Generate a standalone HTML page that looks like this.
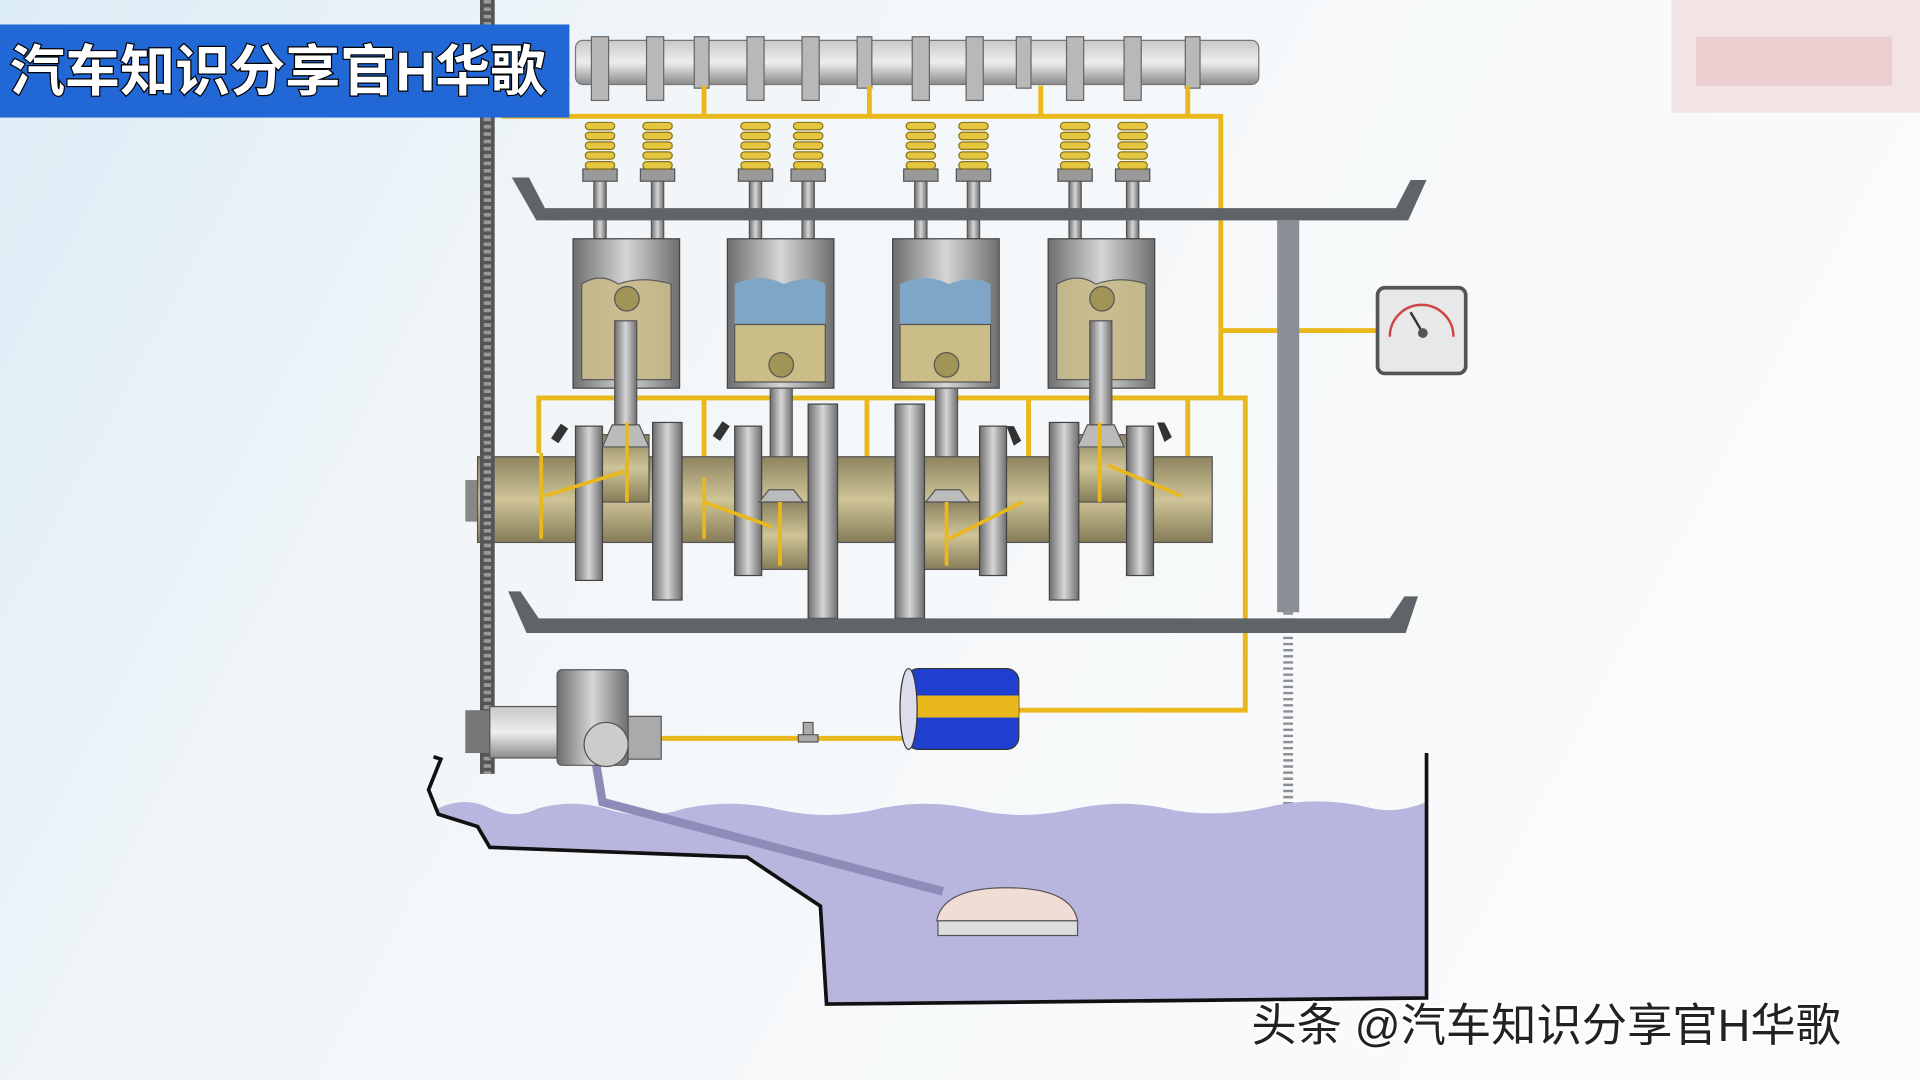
<!DOCTYPE html>
<html><head><meta charset="utf-8"><style>
html,body{margin:0;padding:0;width:1920px;height:1080px;overflow:hidden;background:#f6f8fa}
svg{display:block}
</style></head><body>
<svg width="1920" height="1080" viewBox="0 0 1568 882" xmlns="http://www.w3.org/2000/svg" font-family="Liberation Sans, Noto Sans CJK SC, sans-serif">
<defs>
<linearGradient id="bg" x1="0" y1="0" x2="1" y2="0.3">
<stop offset="0" stop-color="#dcecf6"/><stop offset="0.35" stop-color="#f2f6f9"/><stop offset="1" stop-color="#fafbfb"/></linearGradient>
<linearGradient id="gm" x1="0" y1="0" x2="1" y2="0">
<stop offset="0" stop-color="#6e6e6e"/><stop offset="0.5" stop-color="#d6d6d6"/><stop offset="1" stop-color="#6e6e6e"/></linearGradient>
<linearGradient id="gv" x1="0" y1="0" x2="0" y2="1">
<stop offset="0" stop-color="#c8c8c8"/><stop offset="0.5" stop-color="#eeeeee"/><stop offset="1" stop-color="#8a8a8a"/></linearGradient>
<linearGradient id="cr" x1="0" y1="0" x2="0" y2="1">
<stop offset="0" stop-color="#8d8460"/><stop offset="0.5" stop-color="#cfc497"/><stop offset="1" stop-color="#857c58"/></linearGradient>
<g id="v"><rect x="-5" y="140" width="10" height="55" fill="url(#gm)" stroke="#555"/><rect x="-14" y="138" width="28" height="10" fill="#999" stroke="#555"/>
<g fill="#e5c640" stroke="#8a7415"><rect x="-12" y="100" width="24" height="6" rx="3"/><rect x="-12" y="108" width="24" height="6" rx="3"/><rect x="-12" y="116" width="24" height="6" rx="3"/><rect x="-12" y="124" width="24" height="6" rx="3"/><rect x="-12" y="132" width="24" height="6" rx="3"/></g></g>
</defs>
<rect width="1568" height="882" fill="url(#bg)"/>
<rect x="1365" y="0" width="203" height="92" fill="#f0dede" opacity="0.8"/>
<rect x="1385" y="30" width="160" height="40" fill="#e8c6c8" opacity="0.7"/>

<!-- camshaft -->
<rect x="470" y="33" width="558" height="36" rx="6" fill="url(#gv)" stroke="#777"/>
<g fill="#b8b8b8" stroke="#666">
<rect x="483" y="30" width="14" height="52"/><rect x="528" y="30" width="14" height="52"/><rect x="567" y="30" width="12" height="42"/>
<rect x="610" y="30" width="14" height="52"/><rect x="655" y="30" width="14" height="52"/><rect x="700" y="30" width="12" height="42"/>
<rect x="745" y="30" width="14" height="52"/><rect x="789" y="30" width="14" height="52"/><rect x="830" y="30" width="12" height="42"/>
<rect x="871" y="30" width="14" height="52"/><rect x="918" y="30" width="14" height="52"/><rect x="968" y="30" width="12" height="42"/>
</g>
<g stroke="#e9b81c" stroke-width="4" fill="none">
<polyline points="410,95 997,95 997,325"/>
<line x1="997" y1="270" x2="1125" y2="270"/>
<polyline points="440,370 440,325 1017,325 1017,580 830,580"/>
<line x1="540" y1="603" x2="740" y2="603"/>
<line x1="575" y1="325" x2="575" y2="400"/><line x1="708" y1="325" x2="708" y2="440"/><line x1="840" y1="325" x2="840" y2="420"/><line x1="970" y1="325" x2="970" y2="410"/>
<line x1="575" y1="70" x2="575" y2="95"/><line x1="710" y1="70" x2="710" y2="95"/><line x1="850" y1="70" x2="850" y2="95"/><line x1="970" y1="70" x2="970" y2="95"/>
</g>
<use href="#v" transform="translate(490,0)"/><use href="#v" transform="translate(537,0)"/>
<use href="#v" transform="translate(617,0)"/><use href="#v" transform="translate(660,0)"/>
<use href="#v" transform="translate(752,0)"/><use href="#v" transform="translate(795,0)"/>
<use href="#v" transform="translate(878,0)"/><use href="#v" transform="translate(925,0)"/>
<path d="M418,145 L432,145 L445,170 L1140,170 L1152,147 L1165,147 L1150,180 L438,180 Z" fill="#5f6468"/>
<rect x="1043" y="180" width="18" height="320" fill="#8c8e96"/>
<line x1="1052" y1="500" x2="1052" y2="705" stroke="#8c8e96" stroke-width="8" stroke-dasharray="2 3"/>
<g><rect x="468" y="195" width="87" height="122" fill="url(#gm)" stroke="#444"/>
<path d="M475,232 Q490,222 505,232 Q525,225 548,232 L548,310 L475,310 Z" fill="#c9bc8b" opacity="0.9" stroke="#555"/>
<ellipse cx="512" cy="244" rx="10" ry="10" fill="#a09556" stroke="#555"/></g>
<rect x="502" y="262" width="18" height="85" fill="url(#gm)" stroke="#555"/>
<g><rect x="594" y="195" width="87" height="122" fill="url(#gm)" stroke="#444"/>
<path d="M600,232 Q620,222 640,232 Q660,224 674,232 L674,265 L600,265 Z" fill="#7fa6c6"/>
<path d="M600,265 L674,265 L674,312 L600,312 Z" fill="#cbbd88" stroke="#555"/>
<ellipse cx="638" cy="298" rx="10" ry="10" fill="#a09556" stroke="#555"/></g>
<g><rect x="729" y="195" width="87" height="122" fill="url(#gm)" stroke="#444"/>
<path d="M735,232 Q755,222 775,232 Q795,224 809,232 L809,265 L735,265 Z" fill="#7fa6c6"/>
<path d="M735,265 L809,265 L809,312 L735,312 Z" fill="#cbbd88" stroke="#555"/>
<ellipse cx="773" cy="298" rx="10" ry="10" fill="#a09556" stroke="#555"/></g>
<g><rect x="856" y="195" width="87" height="122" fill="url(#gm)" stroke="#444"/>
<path d="M863,232 Q880,222 895,232 Q915,225 936,232 L936,310 L863,310 Z" fill="#c9bc8b" opacity="0.9" stroke="#555"/>
<ellipse cx="900" cy="244" rx="10" ry="10" fill="#a09556" stroke="#555"/></g>
<rect x="890" y="262" width="18" height="85" fill="url(#gm)" stroke="#555"/>
<rect x="629" y="317" width="18" height="85" fill="url(#gm)" stroke="#555"/>
<rect x="764" y="317" width="18" height="85" fill="url(#gm)" stroke="#555"/>
<rect x="380" y="392" width="10" height="34" fill="#888"/>
<rect x="390" y="373" width="600" height="70" fill="url(#cr)" stroke="#555"/>
<rect x="605" y="410" width="60" height="55" fill="url(#cr)" stroke="#555"/>
<rect x="740" y="410" width="60" height="55" fill="url(#cr)" stroke="#555"/>
<rect x="475" y="355" width="55" height="55" fill="url(#cr)" stroke="#555"/>
<rect x="880" y="355" width="55" height="55" fill="url(#cr)" stroke="#555"/>
<g fill="url(#gm)" stroke="#444">
<rect x="470" y="348" width="22" height="126"/><rect x="533" y="345" width="24" height="145"/>
<rect x="600" y="348" width="22" height="122"/><rect x="660" y="330" width="24" height="175"/>
<rect x="731" y="330" width="24" height="175"/><rect x="800" y="348" width="22" height="122"/>
<rect x="857" y="345" width="24" height="145"/><rect x="920" y="348" width="22" height="122"/>
</g>
<path d="M500,347 L522,347 L530,365 L492,365 Z" fill="#bbb" stroke="#555"/>
<path d="M888,347 L910,347 L918,365 L880,365 Z" fill="#bbb" stroke="#555"/>
<path d="M628,400 L648,400 L656,410 L620,410 Z" fill="#bbb" stroke="#555"/>
<path d="M764,400 L784,400 L792,410 L756,410 Z" fill="#bbb" stroke="#555"/>
<g stroke="#e9b81c" stroke-width="3" fill="none">
<line x1="442" y1="370" x2="442" y2="440"/><line x1="512" y1="345" x2="512" y2="410"/><line x1="445" y1="405" x2="510" y2="385"/>
<line x1="575" y1="390" x2="575" y2="440"/><line x1="575" y1="410" x2="630" y2="430"/><line x1="637" y1="410" x2="637" y2="462"/>
<line x1="773" y1="410" x2="773" y2="462"/><line x1="775" y1="440" x2="835" y2="410"/><line x1="898" y1="345" x2="898" y2="410"/><line x1="905" y1="380" x2="965" y2="405"/>
</g>
<g fill="#333"><path d="M450,358 l8,-12 l6,4 l-8,12 z"/><path d="M582,356 l8,-12 l6,4 l-8,12 z"/><path d="M822,348 l6,0 l6,12 l-6,4 z"/><path d="M945,345 l6,0 l6,12 l-6,4 z"/></g>
<path d="M415,483 L425,483 L440,505 L1135,505 L1147,487 L1158,487 L1148,517 L430,517 Z" fill="#5f6468"/>
<rect x="392" y="0" width="12" height="632" fill="#555"/>
<line x1="398" y1="0" x2="398" y2="632" stroke="#999" stroke-width="6" stroke-dasharray="3 3"/>
<rect x="1125" y="235" width="72" height="70" rx="6" fill="#e8e8e8" stroke="#555" stroke-width="3"/>
<path d="M1135,275 A26,26 0 0 1 1187,275" fill="none" stroke="#c44" stroke-width="2"/>
<line x1="1162" y1="272" x2="1152" y2="255" stroke="#333" stroke-width="2"/><circle cx="1162" cy="272" r="4" fill="#555"/>
<!-- oil pan -->
<path d="M358,660 Q380,650 400,660 Q420,670 440,660 Q470,652 500,662 Q530,670 560,660 Q600,652 640,662 Q680,670 720,660 Q760,652 800,662 Q840,670 880,660 Q920,652 960,662 Q1000,668 1040,658 Q1080,650 1120,660 Q1140,665 1165,655 L1165,815 L675,820 L670,740 L610,700 L400,692 L390,675 L358,665 Z" fill="#b8b6de"/>
<path d="M354,618 L360,620 L350,645 L358,665 L390,675 L400,692 L610,700 L670,740 L675,820 L1165,815 L1165,615" fill="none" stroke="#111" stroke-width="3"/>
<path d="M487,625 L492,655 L770,728" fill="none" stroke="#8e8bb8" stroke-width="7"/>
<path d="M765,752 Q770,725 822,725 Q875,725 880,752 Z" fill="#f2dcd6" stroke="#555"/>
<rect x="766" y="752" width="114" height="12" fill="#ddd" stroke="#555"/>
<!-- pump -->
<rect x="380" y="580" width="20" height="35" fill="#777"/>
<rect x="400" y="577" width="60" height="42" fill="url(#gv)" stroke="#555"/>
<rect x="455" y="547" width="58" height="78" rx="4" fill="url(#gm)" stroke="#555"/>
<circle cx="495" cy="608" r="18" fill="#ccc" stroke="#555"/>
<rect x="513" y="585" width="27" height="35" fill="#aaa" stroke="#555"/>
<path d="M652,600 h16 v6 h-16z M656,590 h8 v10 h-8z" fill="#aaa" stroke="#555"/>
<rect x="740" y="546" width="92" height="66" rx="10" fill="#1f3fd0" stroke="#333"/>
<rect x="740" y="568" width="92" height="18" fill="#e9b81c"/>
<ellipse cx="742" cy="579" rx="7" ry="33" fill="#dde" stroke="#333"/>
<rect x="0" y="20" width="465" height="76" fill="#2167d6"/>
<text x="8" y="74" font-size="45" font-weight="bold" fill="#fff" stroke="#000" stroke-width="2" paint-order="stroke">汽车知识分享官H华歌</text>
<text x="1022" y="850" font-size="37" fill="#222" stroke="#fff" stroke-width="3" paint-order="stroke">头条 @汽车知识分享官H华歌</text>
</svg>
</body></html>
